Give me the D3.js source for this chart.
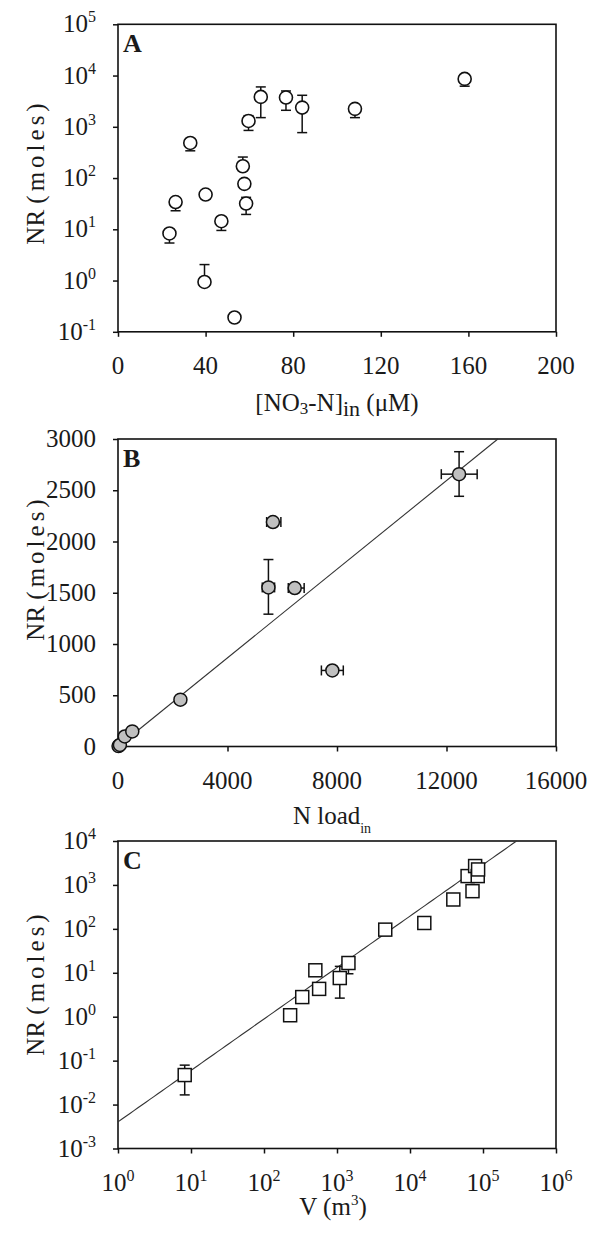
<!DOCTYPE html>
<html>
<head>
<meta charset="utf-8">
<script src="https://cdn.jsdelivr.net/npm/d3@7"></script>
<style>
  body { margin: 0; background: #fff; }
  text { font-family: "Liberation Serif", "Times New Roman", serif; fill: #1a1a1a; }
</style>
</head>
<body>
<div id="chart"></div>
<script>
(function () {

  // Panel A: nitrate in vs NR (log)
  const aNO3 = [23.5, 26.3, 33, 40, 39.5, 47.2, 53.2, 57, 57.7, 58.5, 59.6, 65.2, 76.7, 84.1, 108.2, 158.3]
  const aNR = [8.3, 34, 484, 47.6, 0.94, 14.4, 0.19, 170, 77, 31.8, 1300, 3830, 3720, 2370, 2240, 8600]
  const aErrLo = [5.4, 23, 340, null, null, 9.5, null, null, null, 19.5, 850, 1510, 2100, 770, 1510, 6200]
  const aErrHi = [null, null, null, null, 2.05, null, null, 257, null, 42, 1650, 6000, 5000, 4120, null, null]
  const aYTicks = [-1, 0, 1, 2, 3, 4, 5]
  const aXTicks = [0, 40, 80, 120, 160, 200]

  // Panel B: N load in vs NR (linear)
  const bLoad = [20, 70, 247, 522, 2280, 5495, 5660, 6456, 7830, 12460]
  const bNR = [4, 15, 98, 147, 457, 1552, 2190, 1546, 742, 2657]
  const bYLo = [null, null, null, null, null, 1291, null, null, null, 2441]
  const bYHi = [null, null, null, null, null, 1824, null, null, null, 2876]
  const bXLo = [null, null, null, null, null, 5270, 5430, 6220, 7430, 11810]
  const bXHi = [null, null, null, null, null, 5720, 5950, 6800, 8230, 13120]
  const bSlope = 0.2162
  const bYTicks = [0, 500, 1000, 1500, 2000, 2500, 3000]
  const bXTicks = [0, 4000, 8000, 12000, 16000]

  // Panel C: volume vs NR (log-log)
  const cV = [8.2, 228, 334, 505, 569, 1092, 1435, 4580, 15700, 39200, 61500, 71800, 78000, 84700, 85700]
  const cNR = [0.047, 1.08, 2.8, 11.4, 4.3, 7.6, 16.7, 96, 136, 466, 1590, 721, 2690, 1590, 2250]
  const cErrLo = [0.0166, null, null, null, null, 2.65, 9.5, null, null, null, null, null, null, null, null]
  const cErrHi = [0.079, null, null, null, null, 14, null, null, null, null, null, null, null, null, null]
  const cCoef = 0.00404
  const cExp = 1.171
  const cYTicks = [-3, -2, -1, 0, 1, 2, 3, 4]
  const cXTicks = [0, 1, 2, 3, 4, 5, 6]

  const width = 589
  const height = 1237
  const left = 118
  const plotW = 438
  const plotH = 307.5
  const tops = [24.3, 439, 841]

  const svg = d3.select("#chart").append("svg")
    .attr("width", width)
    .attr("height", height)

  const capW = 5

  // superscript label "10^n"
  function powText(sel, exp) {
    sel.append("tspan").text("10")
    sel.append("tspan").attr("dy", -10).attr("font-size", 16).text(exp)
  }

  function drawFrame(g, top, xScale, yScale, xTicks, yTicks) {
    g.append("g")
      .attr("transform", "translate(0," + (top + plotH) + ")")
      .call(d3.axisBottom(xScale).tickValues(xTicks).tickSize(5).tickSizeOuter(0).tickFormat(""))
    g.append("g")
      .attr("transform", "translate(" + left + ",0)")
      .call(d3.axisLeft(yScale).tickValues(yTicks).tickSize(5).tickSizeOuter(0).tickFormat(""))
    g.selectAll(".domain").attr("stroke", "none")
    g.selectAll(".tick line").attr("stroke", "#111").attr("stroke-width", 1.5)
    g.append("rect")
      .attr("x", left).attr("y", top)
      .attr("width", plotW).attr("height", plotH)
      .attr("fill", "none").attr("stroke", "#111").attr("stroke-width", 1.6)
  }

  function yTitle(g, cy) {
    const t = g.append("text")
      .attr("transform", "translate(44," + cy + ") rotate(-90)")
      .attr("text-anchor", "middle")
      .attr("font-size", 25)
    t.append("tspan").text("NR ")
    t.append("tspan").attr("letter-spacing", 4).text("(moles)")
  }

  function panelLetter(g, top, letter) {
    g.append("text")
      .attr("x", 123).attr("y", top + 28)
      .attr("font-size", 26).attr("font-weight", "bold")
      .text(letter)
  }

  function vErr(g, x, lo, hi) {
    lo.forEach((v, i) => {
      if (v == null) return
      g.append("line").attr("x1", x[i][0]).attr("x2", x[i][0]).attr("y1", x[i][1]).attr("y2", v)
      g.append("line").attr("x1", x[i][0] - capW).attr("x2", x[i][0] + capW).attr("y1", v).attr("y2", v)
    })
    hi.forEach((v, i) => {
      if (v == null) return
      g.append("line").attr("x1", x[i][0]).attr("x2", x[i][0]).attr("y1", x[i][1]).attr("y2", v)
      g.append("line").attr("x1", x[i][0] - capW).attr("x2", x[i][0] + capW).attr("y1", v).attr("y2", v)
    })
  }

  // ---------- Panel A ----------
  {
    const top = tops[0]
    const g = svg.append("g")
    const x = d3.scaleLinear().domain([0, 200]).range([left, left + plotW])
    const y = d3.scaleLog().domain([0.1, 1e5]).range([top + plotH, top])
    drawFrame(g, top, x, y, aXTicks, aYTicks.map(e => Math.pow(10, e)))

    aYTicks.forEach(e => {
      const t = g.append("text").attr("x", 96).attr("y", y(Math.pow(10, e)) + 8)
        .attr("text-anchor", "end").attr("font-size", 25)
      powText(t, e)
    })
    g.selectAll(".xlab").data(aXTicks).join("text")
      .attr("x", d => x(d)).attr("y", top + plotH + 42)
      .attr("text-anchor", "middle").attr("font-size", 25)
      .text(d => d)

    const eb = g.append("g").attr("stroke", "#111").attr("stroke-width", 1.5)
    const pts = aNO3.map((d, i) => [x(d), y(aNR[i])])
    vErr(eb, pts, aErrLo.map(v => v == null ? null : y(v)), aErrHi.map(v => v == null ? null : y(v)))

    g.selectAll("circle").data(aNO3).join("circle")
      .attr("cx", d => x(d))
      .attr("cy", (d, i) => y(aNR[i]))
      .attr("r", 6.5)
      .attr("fill", "#fff").attr("stroke", "#111").attr("stroke-width", 1.6)

    panelLetter(g, top, "A")
    yTitle(g, 172)

    const xt = g.append("text").attr("x", 337).attr("y", 411)
      .attr("text-anchor", "middle").attr("font-size", 25)
    xt.append("tspan").text("[NO")
    xt.append("tspan").attr("font-size", 17).attr("dy", 3).text("3")
    xt.append("tspan").attr("dy", -3).text("-N]")
    xt.append("tspan").attr("font-size", 22).attr("dy", 5).text("in")
    xt.append("tspan").attr("dy", -5).text(" (\u03bcM)")
  }

  // ---------- Panel B ----------
  {
    const top = tops[1]
    const g = svg.append("g")
    const x = d3.scaleLinear().domain([0, 16000]).range([left, left + plotW])
    const y = d3.scaleLinear().domain([0, 3000]).range([top + plotH, top])
    drawFrame(g, top, x, y, bXTicks, bYTicks)

    g.selectAll(".ylab").data(bYTicks).join("text")
      .attr("x", 96).attr("y", d => y(d) + 8)
      .attr("text-anchor", "end").attr("font-size", 25)
      .text(d => d)
    g.selectAll(".xlab").data(bXTicks).join("text")
      .attr("x", d => x(d)).attr("y", top + plotH + 42)
      .attr("text-anchor", "middle").attr("font-size", 25)
      .text(d => d)

    // fit line, clipped to the top of the plot
    const xEnd = Math.min(16000, 3000 / bSlope)
    g.append("line")
      .attr("x1", x(0)).attr("y1", y(0))
      .attr("x2", x(xEnd)).attr("y2", y(bSlope * xEnd))
      .attr("stroke", "#333").attr("stroke-width", 1.1)

    const eb = g.append("g").attr("stroke", "#111").attr("stroke-width", 1.5)
    const pts = bLoad.map((d, i) => [x(d), y(bNR[i])])
    vErr(eb, pts, bYLo.map(v => v == null ? null : y(v)), bYHi.map(v => v == null ? null : y(v)))
    bXLo.forEach((v, i) => {
      if (v == null) return
      const cy = pts[i][1]
      ;[v, bXHi[i]].forEach(e => {
        eb.append("line").attr("x1", pts[i][0]).attr("x2", x(e)).attr("y1", cy).attr("y2", cy)
        eb.append("line").attr("x1", x(e)).attr("x2", x(e)).attr("y1", cy - capW).attr("y2", cy + capW)
      })
    })

    g.selectAll("circle").data(bLoad).join("circle")
      .attr("cx", d => x(d))
      .attr("cy", (d, i) => y(bNR[i]))
      .attr("r", 6.5)
      .attr("fill", "#c0c0c0").attr("stroke", "#111").attr("stroke-width", 1.5)

    panelLetter(g, top, "B")
    yTitle(g, 568)

    const xt = g.append("text").attr("x", 332).attr("y", 824)
      .attr("text-anchor", "middle").attr("font-size", 25)
    xt.append("tspan").text("N load")
    xt.append("tspan").attr("font-size", 14).attr("dy", 9).text("in")
  }

  // ---------- Panel C ----------
  {
    const top = tops[2]
    const g = svg.append("g")
    const x = d3.scaleLog().domain([1, 1e6]).range([left, left + plotW])
    const y = d3.scaleLog().domain([1e-3, 1e4]).range([top + plotH, top])
    drawFrame(g, top, x, y, cXTicks.map(e => Math.pow(10, e)), cYTicks.map(e => Math.pow(10, e)))

    cYTicks.forEach(e => {
      const t = g.append("text").attr("x", 96).attr("y", y(Math.pow(10, e)) + 8)
        .attr("text-anchor", "end").attr("font-size", 25)
      powText(t, e)
    })
    cXTicks.forEach(e => {
      const t = g.append("text").attr("x", x(Math.pow(10, e))).attr("y", top + plotH + 42)
        .attr("text-anchor", "middle").attr("font-size", 25)
      powText(t, e)
    })

    // power-law fit, clipped to the plot
    const vEnd = Math.min(1e6, Math.pow(1e4 / cCoef, 1 / cExp))
    const fit = d3.range(0, 101).map(k => {
      const v = Math.pow(10, Math.log10(vEnd) * k / 100)
      return [x(v), y(cCoef * Math.pow(v, cExp))]
    })
    g.append("path")
      .attr("d", d3.line()(fit))
      .attr("fill", "none").attr("stroke", "#333").attr("stroke-width", 1.1)

    const eb = g.append("g").attr("stroke", "#111").attr("stroke-width", 1.5)
    const pts = cV.map((d, i) => [x(d), y(cNR[i])])
    vErr(eb, pts, cErrLo.map(v => v == null ? null : y(v)), cErrHi.map(v => v == null ? null : y(v)))

    const s = 13
    g.selectAll(".sq").data(cV).join("rect")
      .attr("x", d => x(d) - s / 2)
      .attr("y", (d, i) => y(cNR[i]) - s / 2)
      .attr("width", s).attr("height", s)
      .attr("fill", "#fff").attr("stroke", "#111").attr("stroke-width", 1.5)

    panelLetter(g, top, "C")
    yTitle(g, 983)

    const xt = g.append("text").attr("x", 333).attr("y", 1215)
      .attr("text-anchor", "middle").attr("font-size", 25)
    xt.append("tspan").text("V (m")
    xt.append("tspan").attr("font-size", 15).attr("dy", -10).text("3")
    xt.append("tspan").attr("dy", 10).text(")")
  }

})();
</script>
</body>
</html>
